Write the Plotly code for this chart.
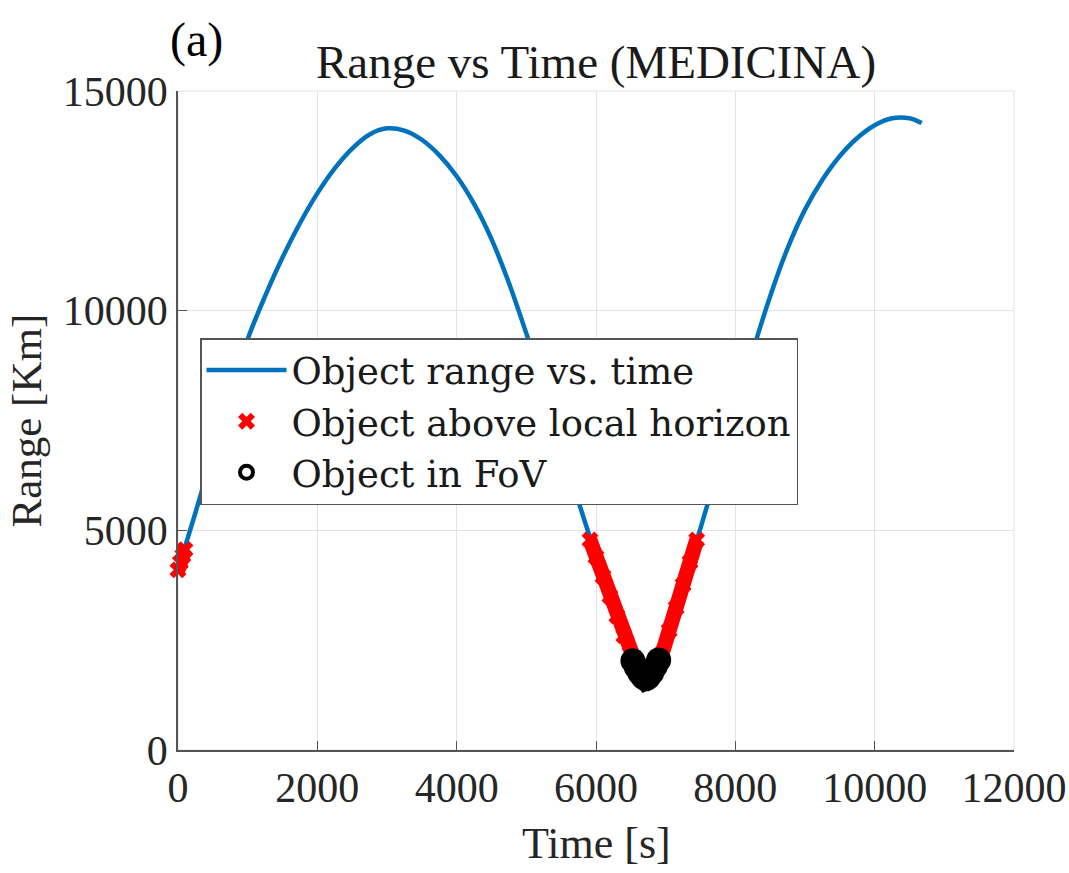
import plotly.graph_objects as go

# ---- data ----
time_s = [0, 250, 500, 750, 1000, 1250, 1500, 1750, 2000, 2250, 2500, 2750, 3000, 3250, 3500,
          3750, 4000, 4250, 4500, 4750, 5000, 5250, 5500, 5750, 6000, 6250, 6490, 6620,
          6715, 6810, 6950, 7200, 7445, 7500, 7750, 8000, 8250, 8500, 8750, 9000, 9250, 9500,
          9750, 10000, 10250, 10500, 10675]
range_km = [4100, 5400, 6750, 8080, 9350, 10330, 11210, 11990, 12670, 13240, 13690, 14010,
            14150, 14100, 13890, 13540, 13060, 12430, 11630, 10630, 9480, 8250, 7000, 5650,
            4430, 3300, 2200, 1760, 1620, 1760, 2200, 3500, 4780, 5050, 6400, 7750, 9080,
            10330, 11420, 12300, 12980, 13520, 13930, 14220, 14380, 14380, 14270]

horizon_t1 = [0, 35, 70, 100]
horizon_r1 = [4100, 4270, 4420, 4560]
horizon_t2 = [5914, 6000, 6100, 6200, 6300, 6400, 6490, 6550, 6620, 6680, 6715, 6750, 6810,
              6880, 6950, 7050, 7150, 7250, 7350, 7445]
horizon_r2 = [4780, 4395, 3950, 3500, 3050, 2600, 2200, 1960, 1760, 1650, 1620, 1650, 1760,
              1960, 2200, 2720, 3240, 3760, 4280, 4780]

fov_t = [6530, 6580, 6630, 6680, 6715, 6750, 6800, 6850, 6900]
fov_r = [2030, 1880, 1750, 1650, 1620, 1650, 1760, 1900, 2050]

x_ticks = [0, 2000, 4000, 6000, 8000, 10000, 12000]
y_ticks = [0, 5000, 10000, 15000]

FONT = "Liberation Serif"
LEG_FONT = "DejaVu Serif"
TXT = "#262626"

hor_t = horizon_t1 + [None] + horizon_t2
hor_r = horizon_r1 + [None] + horizon_r2

fig = go.Figure()
fig.add_trace(go.Scatter(x=time_s, y=range_km, mode="lines",
                         line=dict(color="#0072BD", width=4.5, shape="spline", smoothing=1.0),
                         name="Object range vs. time"))
# dense marker band (MATLAB plotted every sample)
fig.add_trace(go.Scatter(x=hor_t, y=hor_r, mode="lines", showlegend=False,
                         line=dict(color="#ff0000", width=15), hoverinfo="skip"))
fig.add_trace(go.Scatter(x=hor_t, y=hor_r, mode="markers", cliponaxis=False,
                         marker=dict(symbol="x", size=15, color="#ff0000", line=dict(width=0)),
                         name="Object above local horizon"))
fig.add_trace(go.Scatter(x=fov_t, y=fov_r, mode="lines+markers", showlegend=False,
                         line=dict(color="black", width=22),
                         marker=dict(symbol="circle", size=25, color="black"), hoverinfo="skip"))
fig.add_trace(go.Scatter(x=fov_t, y=fov_r, mode="markers",
                         marker=dict(symbol="circle-open", size=13, color="black",
                                     line=dict(width=4, color="black")),
                         name="Object in FoV"))

axis_common = dict(showgrid=True, gridcolor="#e3e3e3", gridwidth=1, zeroline=False,
                   showline=True, linecolor="#555555", linewidth=1.5, automargin=False,
                   ticks="inside", ticklen=9, tickcolor="#555555", tickwidth=1.2,
                   tickfont=dict(family=FONT, size=42, color=TXT))

fig.update_layout(
    width=1069, height=873, autosize=False,
    margin=dict(l=178, r=55, t=91, b=123),
    paper_bgcolor="white", plot_bgcolor="white",
    xaxis=dict(range=[0, 12000], tickvals=x_ticks, ticktext=[str(v) for v in x_ticks],
               **axis_common),
    yaxis=dict(range=[0, 15000], tickvals=y_ticks, ticktext=[str(v) for v in y_ticks],
               **axis_common),
    title=dict(text="Range vs Time (MEDICINA)", x=0.5, xref="paper", xanchor="center",
               y=1 - 62 / 873, yanchor="middle",
               font=dict(family=FONT, size=47, color="#1a1a1a")),
    legend=dict(x=(200 - 178) / 836, y=(750 - 338) / 659, xanchor="left", yanchor="top",
                bgcolor="white", bordercolor="#555555", borderwidth=1.5,
                font=dict(family=LEG_FONT, size=37, color="#1a1a1a"),
                itemwidth=80, tracegroupgap=0),
    showlegend=True,
    shapes=[dict(type="rect", xref="paper", yref="paper", x0=0, x1=1, y0=0, y1=1,
                 line=dict(color="#e3e3e3", width=1), layer="below")],
    annotations=[
        dict(text="(a)", xref="paper", yref="paper", x=(196 - 178) / 836, y=(750 - 40) / 659,
             xanchor="center", yanchor="middle", showarrow=False,
             font=dict(family=FONT, size=48, color="black")),
        dict(text="Time [s]", xref="paper", yref="paper", x=0.5, y=(750 - 843) / 659,
             xanchor="center", yanchor="middle", showarrow=False,
             font=dict(family=FONT, size=44, color=TXT)),
        dict(text="Range [Km]", xref="paper", yref="paper", x=(26 - 178) / 836, y=0.5,
             xanchor="center", yanchor="middle", showarrow=False, textangle=-90,
             font=dict(family=FONT, size=43, color=TXT)),
    ],
)

fig.write_html("out.html")
